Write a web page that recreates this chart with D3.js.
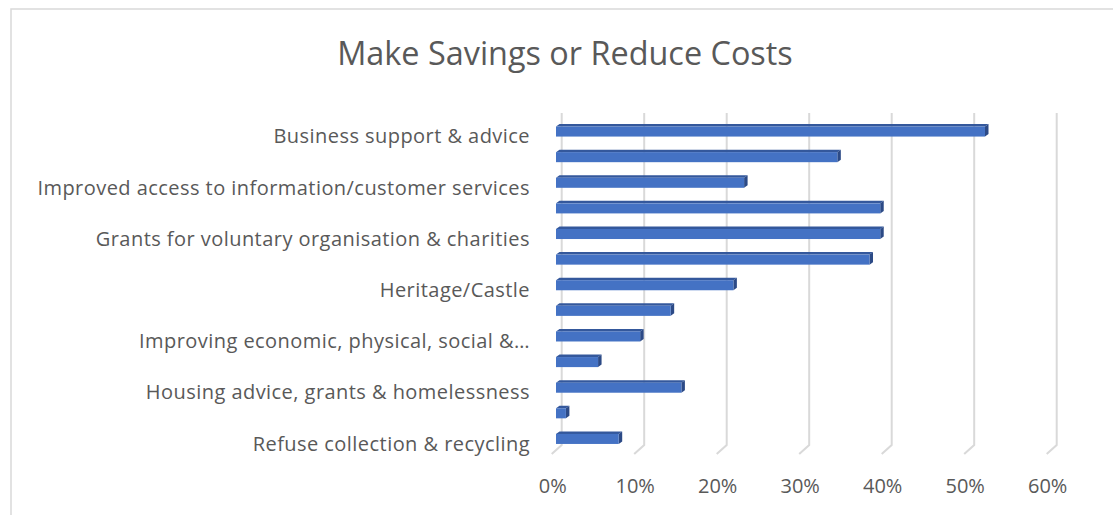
<!DOCTYPE html>
<html>
<head>
<meta charset="utf-8">
<script src="https://cdn.jsdelivr.net/npm/d3@7"></script>
<style>
  html, body { margin: 0; padding: 0; background: #fff; }
  svg { display: block; }
  text { font-family: "Open Sans", "Noto Sans", sans-serif; fill: #595959; }
</style>
</head>
<body>
<svg id="chart" width="1113" height="515"></svg>
<script>
// Category labels (Excel only prints every other one; the rest stay blank)
const categories = [
  "Business support & advice",
  "",
  "Improved access to information/customer services",
  "",
  "Grants for voluntary organisation & charities",
  "",
  "Heritage/Castle",
  "",
  "Improving economic, physical, social &\u2026",
  "",
  "Housing advice, grants & homelessness",
  "",
  "Refuse collection & recycling"
];
// Share of respondents per service
const values = [0.520, 0.341, 0.228, 0.393, 0.393, 0.380, 0.215, 0.139, 0.102, 0.051, 0.152, 0.012, 0.076];
const tickValues = [0, 0.1, 0.2, 0.3, 0.4, 0.5, 0.6];
const title = "Make Savings or Reduce Costs";

const svg = d3.select("#chart");

// Chart frame
svg.append("rect")
  .attr("x", 11).attr("y", 9)
  .attr("width", 1120).attr("height", 520)
  .attr("fill", "#fff")
  .attr("stroke", "#d9d9d9").attr("stroke-width", 1.5);

svg.append("text")
  .attr("x", 565).attr("y", 52)
  .attr("text-anchor", "middle")
  .attr("dominant-baseline", "central")
  .style("font-size", "32.4px")
  .text(title);

// Back wall scale and category bands
const x = d3.scaleLinear().domain([0, 0.6]).range([561.7, 1056.7]);
const y = d3.scaleBand().domain(d3.range(categories.length)).range([113, 446]).padding(0);

// 3D projection offsets
const depthX = 5.7;     // front face sits left of the back wall
const sideW = 3.5, topH = 2.5;
const floorDx = 10, floorDy = 9;

// Gridlines with their floor segments
const grid = svg.append("g");
tickValues.forEach(t => {
  const gx = x(t);
  grid.append("path")
    .attr("d", `M${gx},113 L${gx},445 L${gx - floorDx},${445 + floorDy}`)
    .attr("fill", "none")
    .attr("stroke", "#d9d9d9")
    .attr("stroke-width", 2);
});

// Axis tick labels
svg.append("g").selectAll("text")
  .data(tickValues)
  .join("text")
  .attr("x", d => x(d) - 9)
  .attr("y", 485)
  .attr("text-anchor", "middle")
  .attr("dominant-baseline", "central")
  .style("font-size", "20px")
  .text(d => d3.format(".0%")(d));

// Bars: front face, top face, side face
const barOffset = y.step() * 0.43;
const barH = y.step() * 0.49;
const x0 = x(0) - depthX;
const w = v => x(v) - x(0);

const bars = svg.append("g").selectAll("g")
  .data(values)
  .join("g")
  .attr("transform", (d, i) => `translate(0,${y(i) + barOffset})`);

bars.append("path")
  .attr("d", d => {
    const xe = x0 + w(d);
    return `M${x0},${topH} L${x0 + sideW},0 L${xe + sideW},0 L${xe},${topH} Z`;
  })
  .attr("fill", "#34589c");

bars.append("path")
  .attr("d", d => {
    const xe = x0 + w(d);
    return `M${xe},${topH} L${xe + sideW},0 L${xe + sideW},${barH - topH} L${xe},${barH} Z`;
  })
  .attr("fill", "#2c4a86");

bars.append("rect")
  .attr("x", x0)
  .attr("y", topH)
  .attr("width", d => w(d))
  .attr("height", barH - topH)
  .attr("fill", "#4472c4");

// Category labels
svg.append("g").selectAll("text")
  .data(categories)
  .join("text")
  .attr("x", 530)
  .attr("y", (d, i) => y(i) + y.step() / 2 + 10)
  .attr("text-anchor", "end")
  .attr("dominant-baseline", "central")
  .style("font-size", "20px")
  .style("letter-spacing", "0.45px")
  .text(d => d);
</script>
</body>
</html>
